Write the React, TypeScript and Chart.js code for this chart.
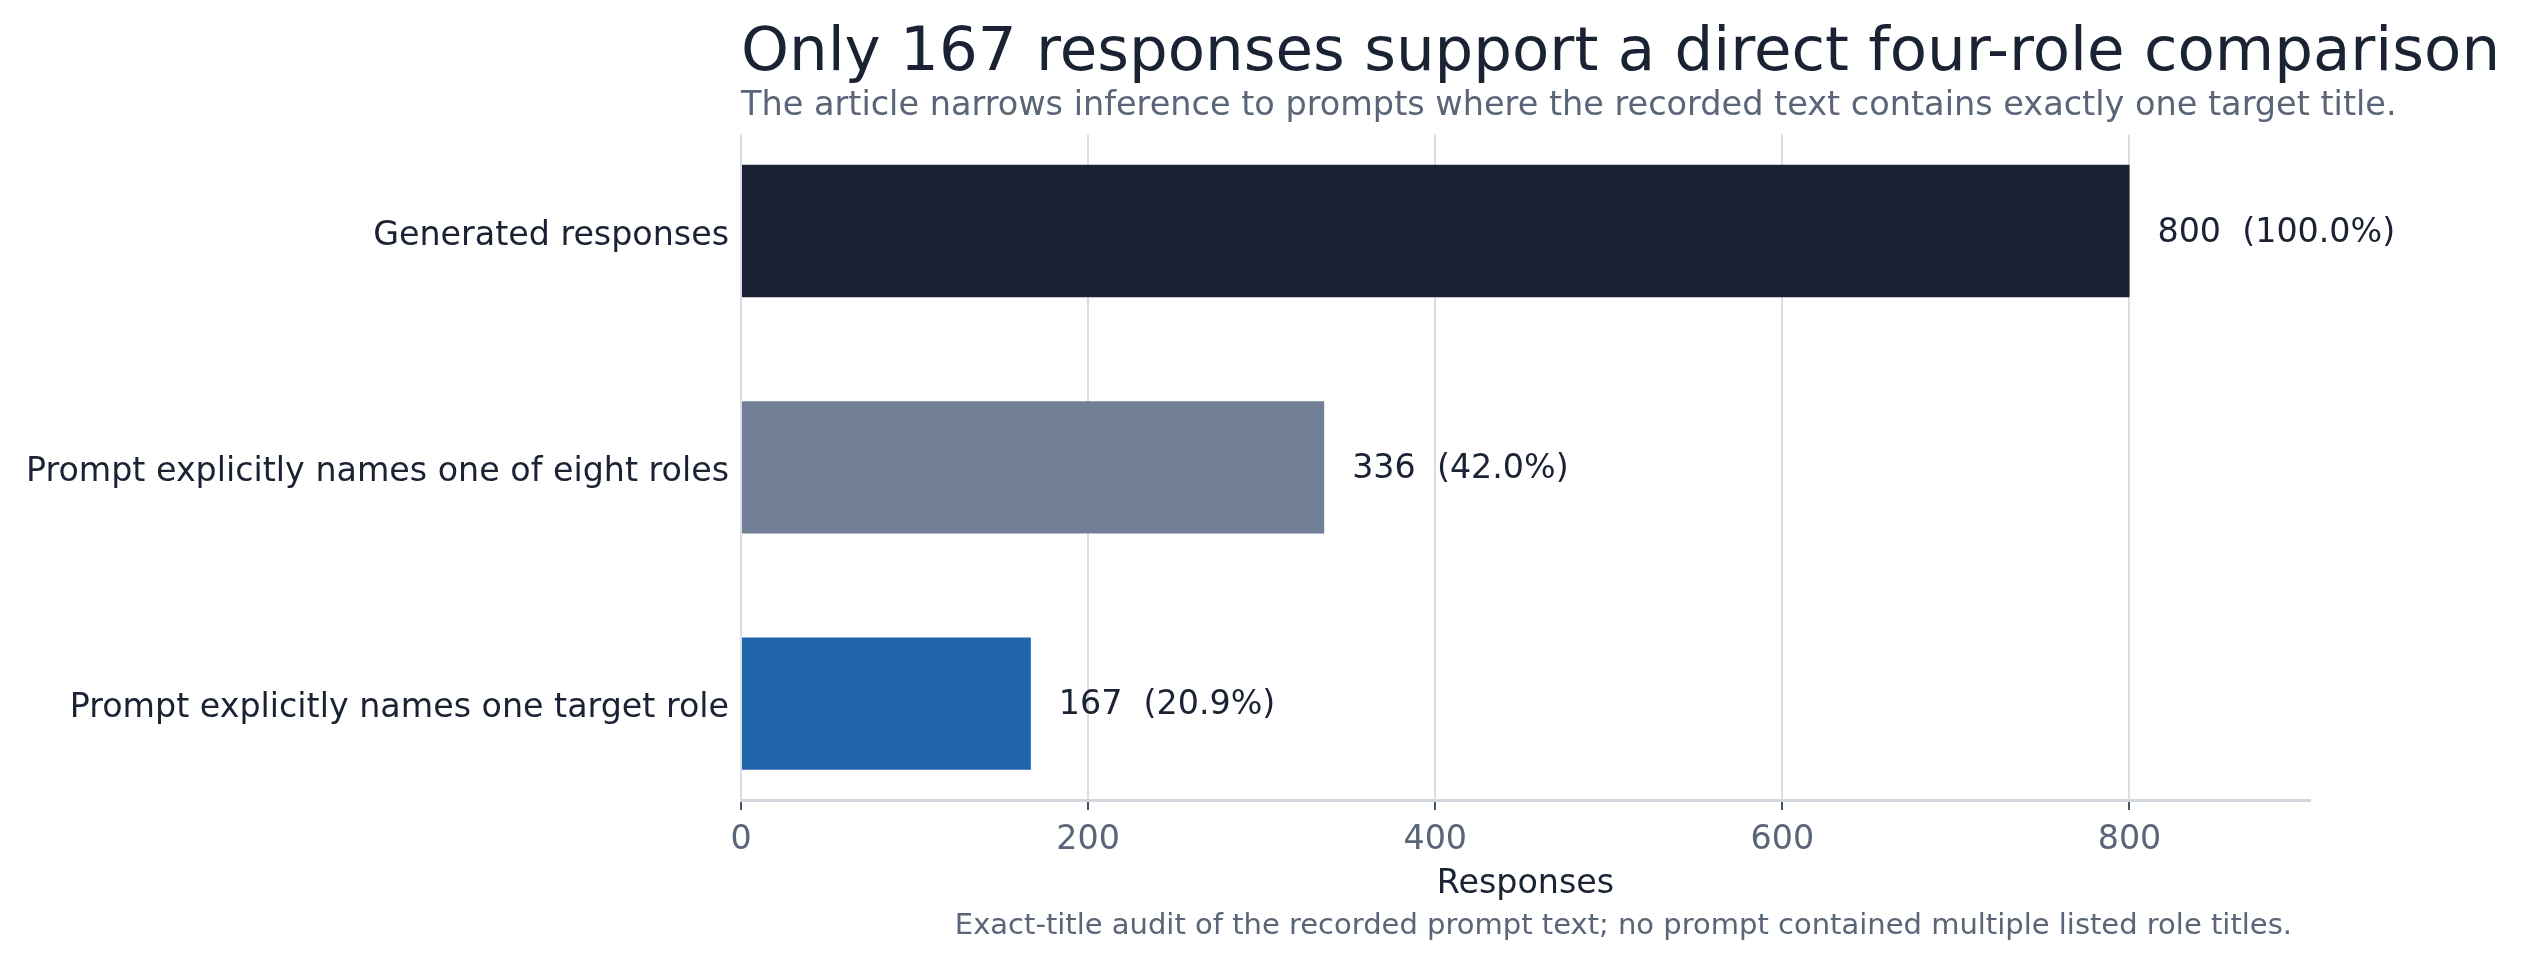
import React, { useEffect, useRef } from "react";
import { Chart, registerables } from "chart.js";

Chart.register(...registerables);

const categories = [
  "Generated responses",
  "Prompt explicitly names one of eight roles",
  "Prompt explicitly names one target role",
];
const counts = [800, 336, 167];
const barColors = ["#1a2133", "#718096", "#2166ac"];
const xTicks = [0, 200, 400, 600, 800];
const totalResponses = 800;

const TITLE = "Only 167 responses support a direct four-role comparison";
const SUBTITLE =
  "The article narrows inference to prompts where the recorded text contains exactly one target title.";
const X_TITLE = "Responses";
const FOOTNOTE =
  "Exact-title audit of the recorded prompt text; no prompt contained multiple listed role titles.";

const FONT = "'DejaVu Sans', sans-serif";
const DARK = "#1a2234";
const GRAY = "#5b6578";

const textPlugin = {
  id: "texts",
  afterDatasetsDraw(chart: any) {
    const { ctx } = chart;
    const xScale = chart.scales.x;
    const meta = chart.getDatasetMeta(0);
    ctx.save();
    ctx.textAlign = "left";
    ctx.textBaseline = "middle";
    ctx.fillStyle = DARK;
    ctx.font = `33.3px ${FONT}`;
    counts.forEach((v, i) => {
      const el = meta.data[i];
      const pct = ((v / totalResponses) * 100).toFixed(1);
      ctx.fillText(`${v}  (${pct}%)`, xScale.getPixelForValue(v) + 28, el.y + 2);
    });
    ctx.restore();
  },
  afterDraw(chart: any) {
    const { ctx, chartArea } = chart;
    ctx.save();
    ctx.textBaseline = "alphabetic";
    ctx.textAlign = "left";
    ctx.fillStyle = DARK;
    ctx.font = `61px ${FONT}`;
    ctx.fillText(TITLE, chartArea.left, 70);
    ctx.fillStyle = GRAY;
    ctx.font = `33.5px ${FONT}`;
    ctx.fillText(SUBTITLE, chartArea.left, 115);
    ctx.textAlign = "center";
    ctx.fillStyle = DARK;
    ctx.font = `33.3px ${FONT}`;
    ctx.fillText(X_TITLE, (chartArea.left + chartArea.right) / 2, 893);
    ctx.textAlign = "right";
    ctx.fillStyle = GRAY;
    ctx.font = `29px ${FONT}`;
    ctx.fillText(FOOTNOTE, 2292, 934);
    ctx.restore();
  },
};

export default function App() {
  const ref = useRef<HTMLCanvasElement | null>(null);
  useEffect(() => {
    document.body.style.margin = "0";
    if (!ref.current) return;
    const chart = new Chart(ref.current, {
      type: "bar",
      data: {
        datasets: [
          {
            data: counts.map((v, i) => ({ x: v, y: i })) as any,
            backgroundColor: barColors,
            borderWidth: 0,
            barPercentage: 0.56,
            categoryPercentage: 1,
          },
        ],
      },
      options: {
        indexAxis: "y",
        animation: false,
        responsive: false,
        devicePixelRatio: 1,
        layout: { padding: { top: 134.6, right: 213, bottom: 0, left: 0 } },
        plugins: {
          legend: { display: false },
          tooltip: { enabled: false },
          title: { display: false },
        },
        scales: {
          x: {
            type: "linear",
            min: 0,
            max: 904,
            offset: false,
            afterBuildTicks: (scale: any) => {
              scale.ticks = xTicks.map((v) => ({ value: v }));
            },
            afterFit: (scale: any) => {
              scale.height = 161;
            },
            ticks: {
              color: GRAY,
              font: { family: FONT, size: 33.3 },
              padding: 10,
              maxRotation: 0,
            },
            grid: {
              color: "#dadde4",
              lineWidth: 2,
              tickColor: "#4b5565",
              tickWidth: 2,
              tickLength: 10,
            },
            border: { display: true, color: "#d3d7df", width: 3 },
          },
          y: {
            type: "linear",
            min: -0.408,
            max: 2.408,
            offset: false,
            grace: 0,
            reverse: true,
            afterBuildTicks: (scale: any) => {
              scale.ticks = categories.map((_, i) => ({ value: i }));
            },
            afterFit: (scale: any) => {
              scale.width = 741;
            },
            ticks: {
              color: DARK,
              font: { family: FONT, size: 33.3 },
              padding: 4,
              labelOffset: 5,
              callback: (v: any) => categories[v as number] ?? "",
            },
            grid: { display: false },
            border: { display: false },
          },
        },
      },
      plugins: [textPlugin],
    });
    return () => chart.destroy();
  }, []);
  return (
    <div style={{ width: 2523, height: 961 }}>
      <canvas ref={ref} width={2523} height={961} style={{ display: "block" }} />
    </div>
  );
}
